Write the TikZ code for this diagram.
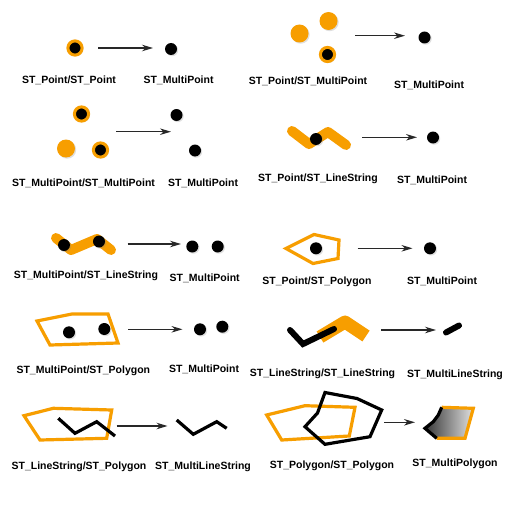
\documentclass[tikz,border=0pt]{standalone}
\usepackage{fontspec}
\setmainfont{Liberation Sans}
\usetikzlibrary{arrows.meta,shadows}
\definecolor{org}{RGB}{247,158,0}
\definecolor{arrc}{RGB}{40,40,40}
\tikzset{
  lbl/.style={font=\fontsize{10.5}{12}\selectfont\bfseries, inner sep=0pt},
  shd/.style={drop shadow={opacity=0.25, shadow xshift=1.2pt, shadow yshift=-1.2pt}},
  bdot/.style={circle, fill=black, inner sep=0pt, minimum size=12pt, shd},
  odot/.style={circle, fill=org, inner sep=0pt, minimum size=18pt, shd},
  obdot/.style={circle, draw=org, line width=3pt, fill=black, inner sep=0pt, minimum size=14.2pt, shd},
  arr/.style={draw=arrc, line width=1.1pt, -{Stealth[length=11pt,width=6.5pt,inset=3.5pt]}},
  opoly/.style={draw=org, line width=3.2pt, line join=miter},
  bline/.style={draw=black, line width=3.2pt, line join=miter},
  othick/.style={draw=org, line width=10pt, line cap=round, line join=round},
  bthick/.style={draw=black, line width=6pt, line cap=round, line join=miter},
}
\begin{document}
\begin{tikzpicture}[x=1pt,y=-1pt]
\useasboundingbox[fill=white] (0,0) rectangle (512,527);

% ---------- Panel 1
\node[obdot] (p1a) at (75,48) {};
\node[bdot] (p1r) at (171,49) {};
\coordinate (a1s) at (98,48); \coordinate (a1e) at (153,48);
\draw[arr] (a1s) -- (a1e);
\node[lbl] (l1a) at (69,80) {ST\_Point/ST\_Point};
\node[lbl] (l1b) at (178.5,80) {ST\_MultiPoint};

% ---------- Panel 2
\node[odot] (p2a) at (299.5,33.5) {};
\node[odot] (p2b) at (328.5,21) {};
\node[obdot] (p2c) at (327.5,54.5) {};
\node[bdot] (p2r) at (424.5,37.5) {};
\coordinate (a2s) at (355,35.7); \coordinate (a2e) at (405,35.7);
\draw[arr] (a2s) -- (a2e);
\node[lbl] (l2a) at (308,81) {ST\_Point/ST\_MultiPoint};
\node[lbl] (l2b) at (429,85) {ST\_MultiPoint};

% ---------- Panel 3
\node[obdot] (p3a) at (81.5,114) {};
\node[odot] (p3b) at (66,148.5) {};
\node[obdot] (p3c) at (100.5,150) {};
\node[bdot] (p3r1) at (176.5,115) {};
\node[bdot] (p3r2) at (195,150.5) {};
\coordinate (a3s) at (116,131.7); \coordinate (a3e) at (171,131.7);
\draw[arr] (a3s) -- (a3e);
\node[lbl] (l3a) at (83.5,183) {ST\_MultiPoint/ST\_MultiPoint};
\node[lbl] (l3b) at (203,183) {ST\_MultiPoint};

% ---------- Panel 4
\draw[othick] (292,131) -- (309,144) -- (328,132) -- (346,145);
\node[bdot] (p4a) at (316,139) {};
\node[bdot] (p4r) at (433,137.5) {};
\coordinate (a4s) at (362,137.3); \coordinate (a4e) at (417,137.3);
\draw[arr] (a4s) -- (a4e);
\node[lbl] (l4a) at (318,179) {ST\_Point/ST\_LineString};
\node[lbl] (l4b) at (432,180) {ST\_MultiPoint};

% ---------- Panel 5
\draw[othick] (56,238) -- (71,250) -- (97,239) -- (111,250);
\node[bdot] (p5a) at (64,245) {};
\node[bdot] (p5b) at (99,241.5) {};
\node[bdot] (p5r1) at (192.3,246.5) {};
\node[bdot] (p5r2) at (217.7,246.5) {};
\coordinate (a5s) at (127.7,244); \coordinate (a5e) at (181,244);
\draw[arr] (a5s) -- (a5e);
\node[lbl] (l5a) at (86,276) {ST\_MultiPoint/ST\_LineString};
\node[lbl] (l5b) at (204.7,278) {ST\_MultiPoint};

% ---------- Panel 6
\draw[opoly] (286,248.5) -- (314,234.5) -- (339,240) -- (338,258.5) -- (313,263.5) -- cycle;
\node[bdot] (p6a) at (316,248.3) {};
\node[bdot] (p6r) at (430,248.3) {};
\coordinate (a6s) at (357.7,248.3); \coordinate (a6e) at (412.5,248.3);
\draw[arr] (a6s) -- (a6e);
\node[lbl] (l6a) at (317,281.5) {ST\_Point/ST\_Polygon};
\node[lbl] (l6b) at (442,281) {ST\_MultiPoint};

% ---------- Panel 7
\draw[opoly] (37,321) -- (72,314) -- (108,314) -- (118,343) -- (50,345) -- cycle;
\node[bdot] (p7a) at (69,332.3) {};
\node[bdot] (p7b) at (104.3,329) {};
\node[bdot] (p7r1) at (200,329.3) {};
\node[bdot] (p7r2) at (222.3,326.7) {};
\coordinate (a7s) at (128.3,329.3); \coordinate (a7e) at (182.5,329.3);
\draw[arr] (a7s) -- (a7e);
\node[lbl] (l7a) at (83.3,371) {ST\_MultiPoint/ST\_Polygon};
\node[lbl] (l7b) at (204,369.5) {ST\_MultiPoint};

% ---------- Panel 8
\draw[draw=org, line width=13pt, line join=round] (320,337) -- (345,322) -- (366,336);
\draw[bthick] (290,330) -- (303,344) -- (334,329);
\draw[bthick, shd] (446,332.5) -- (459,325.5);
\coordinate (a8s) at (381,330); \coordinate (a8e) at (436,330);
\draw[arr] (a8s) -- (a8e);
\node[lbl] (l8a) at (322.5,374) {ST\_LineString/ST\_LineString};
\node[lbl] (l8b) at (455,375) {ST\_MultiLineString};

% ---------- Panel 9
\draw[opoly] (24,415.7) -- (53.3,408.3) -- (111.7,410) -- (106.7,438.3) -- (40,440) -- cycle;
\draw[bline] (58.3,418.3) -- (75,433.3) -- (96.7,421.7) -- (115,436);
\draw[bline] (176.7,420) -- (193.3,434.3) -- (216.7,421.7) -- (226.7,428.3);
\coordinate (a9s) at (116.7,426); \coordinate (a9e) at (167.5,426);
\draw[arr] (a9s) -- (a9e);
\node[lbl] (l9a) at (79,467) {ST\_LineString/ST\_Polygon};
\node[lbl] (l9b) at (203,467) {ST\_MultiLineString};

% ---------- Panel 10
\draw[opoly] (266.7,415) -- (305,405.7) -- (355,407.3) -- (349.3,436) -- (281.7,440) -- cycle;
\draw[bline] (325,392.5) -- (357,398.5) -- (381.7,410) -- (370,436.7) -- (325,444.3) -- (305,426.7) -- (317.5,413) -- cycle;
\shade[left color=black!78, right color=black!12]
  (441.7,407.3) -- (473.3,408.3) -- (465,438.3) -- (436.7,438.3) -- (425,428.3) -- (433.3,421.7) -- (438.3,415) -- cycle;
\draw[draw=org, line width=3.2pt, line join=miter] (441.7,407.3) -- (473.3,408.3) -- (465,438.3) -- (436.7,438.3);
\draw[bline] (436.7,438.3) -- (425,428.3) -- (433.3,421.7) -- (438.3,415) -- (441.7,407.3);
\coordinate (a10s) at (384.3,422.3); \coordinate (a10e) at (415,422.3);
\draw[arr] (a10s) -- (a10e);
\node[lbl] (l10a) at (332,465.7) {ST\_Polygon/ST\_Polygon};
\node[lbl] (l10b) at (455,463.5) {ST\_MultiPolygon};
\end{tikzpicture}
\end{document}
